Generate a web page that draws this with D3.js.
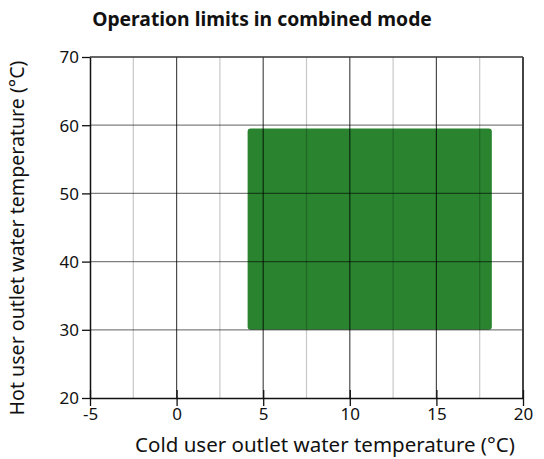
<!DOCTYPE html>
<html><head><meta charset="utf-8">
<script src="https://cdn.jsdelivr.net/npm/d3@7"></script>
<style>body{margin:0;background:#fff}svg{display:block}text{font-family:"Noto Sans","Open Sans",sans-serif}</style>
</head><body>
<script>
const title = "Operation limits in combined mode";
const xLabel = "Cold user outlet water temperature (°C)";
const yLabel = "Hot user outlet water temperature (°C)";
const xTicks = [-5, 0, 5, 10, 15, 20];
const xMinor = [-2.5, 2.5, 7.5, 12.5, 17.5];
const yTicks = [20, 30, 40, 50, 60, 70];
const regionX = [4.1, 18.2];
const regionY = [30, 59.5];

const W = 544, H = 459;
const FONT = '"Noto Sans","Open Sans",sans-serif';
const svg = d3.select("body").append("svg").attr("width", W).attr("height", H);
const x = d3.scaleLinear().domain([-5, 20]).range([90, 523]);
const y = d3.scaleLinear().domain([20, 70]).range([398, 57]);

// region
svg.append("rect")
  .attr("x", x(regionX[0])).attr("y", y(regionY[1]))
  .attr("width", x(regionX[1]) - x(regionX[0]))
  .attr("height", y(regionY[0]) - y(regionY[1]))
  .attr("rx", 3).attr("fill", "#29832f");

// grid
svg.append("g").selectAll("line").data(xMinor).join("line")
  .attr("x1", d => x(d)).attr("x2", d => x(d)).attr("y1", y(70)).attr("y2", y(20))
  .attr("stroke", "rgba(0,0,0,0.22)").attr("stroke-width", 1.2);
svg.append("g").selectAll("line").data(xTicks.slice(1, -1)).join("line")
  .attr("x1", d => x(d)).attr("x2", d => x(d)).attr("y1", y(70)).attr("y2", y(20))
  .attr("stroke", "rgba(0,0,0,0.7)").attr("stroke-width", 1.2);
svg.append("g").selectAll("line").data(yTicks.slice(1, -1)).join("line")
  .attr("x1", x(-5)).attr("x2", x(20)).attr("y1", d => y(d)).attr("y2", d => y(d))
  .attr("stroke", "rgba(0,0,0,0.5)").attr("stroke-width", 1.2);

// top & right borders
svg.append("line").attr("x1", x(-5)).attr("x2", x(20)).attr("y1", y(70)).attr("y2", y(70))
  .attr("stroke", "#333").attr("stroke-width", 1.5);
svg.append("line").attr("x1", x(20)).attr("x2", x(20)).attr("y1", y(70)).attr("y2", y(20))
  .attr("stroke", "#444").attr("stroke-width", 2);

// axes
const xAxis = svg.append("g").attr("transform", `translate(0,${y(20)})`)
  .call(d3.axisBottom(x).tickValues(xTicks).tickSize(8).tickSizeOuter(0).tickFormat(d => String(d)));
const yAxis = svg.append("g").attr("transform", `translate(${x(-5)},0)`)
  .call(d3.axisLeft(y).tickValues(yTicks).tickSize(8).tickSizeOuter(0).tickFormat(d => String(d)));
xAxis.selectAll("line").attr("y1", -8).attr("y2", 8).attr("stroke", "#111").attr("stroke-width", 1.3);
yAxis.selectAll("line").attr("x1", 0).attr("stroke", "#111").attr("stroke-width", 1.3);
[xAxis, yAxis].forEach(a => {
  a.select(".domain").attr("stroke", "#111").attr("stroke-width", 1.5);
  a.selectAll("text").attr("font-size", 17).attr("fill", "#111").style("font-family", FONT);
});
xAxis.selectAll("text").attr("y", 10).attr("dy", "0.71em");
yAxis.selectAll("text").attr("x", -11).attr("dy", "0.35em");

function fit(sel, target) {
  const base = +sel.attr("font-size");
  const len = sel.node().getComputedTextLength();
  if (len > 0) sel.attr("font-size", base * target / len);
}

// title & labels
const t = svg.append("text").attr("x", 262).attr("y", 26).attr("text-anchor", "middle")
  .attr("font-size", 18).attr("font-weight", "bold").attr("fill", "#111").text(title);
fit(t, 340);
const xl = svg.append("text").attr("x", 325).attr("y", 452).attr("text-anchor", "middle")
  .attr("font-size", 18).attr("fill", "#111").text(xLabel);
fit(xl, 380);
const yl = svg.append("text").attr("transform", `translate(24,238) rotate(-90)`).attr("text-anchor", "middle")
  .attr("font-size", 18).attr("fill", "#111").text(yLabel);
fit(yl, 355);
</script>
</body></html>
